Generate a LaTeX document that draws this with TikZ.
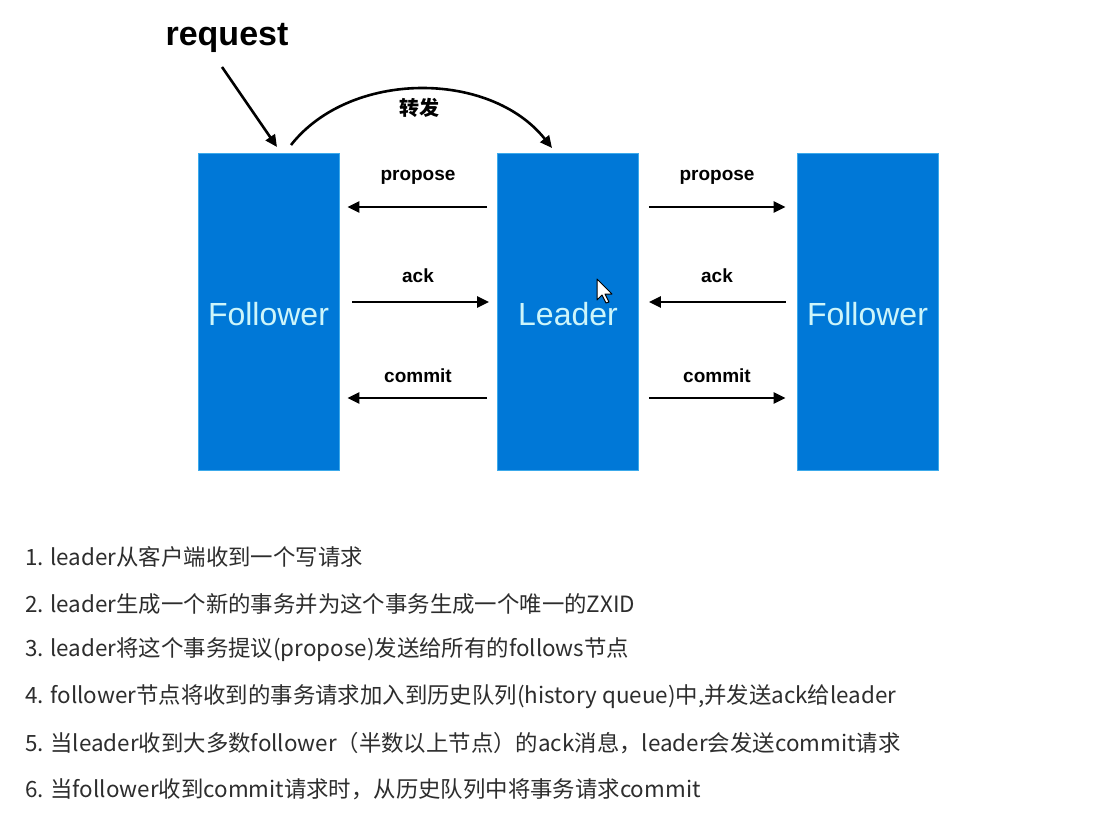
\documentclass[tikz,border=0pt]{standalone}
\usepackage{fontspec}
\setmainfont{Liberation Sans}
\newfontfamily\cjk{Noto Sans CJK SC}
\usetikzlibrary{arrows.meta}
\definecolor{boxblue}{RGB}{0,120,215}
\definecolor{boxedge}{RGB}{60,170,235}
\definecolor{boxtext}{RGB}{205,245,250}
\definecolor{listtext}{RGB}{45,45,45}
\tikzset{
  box/.style={rectangle, fill=boxblue, draw=boxedge, line width=0.8pt, minimum width=141pt, minimum height=317pt, inner sep=0pt, text=boxtext, font=\fontsize{32}{38}\selectfont},
  arr/.style={-{Triangle[length=12pt,width=11pt]}, line width=2.6pt, black},
  lbl/.style={font=\fontsize{19}{22}\selectfont\bfseries, text=black, inner sep=0pt},
  item/.style={anchor=west, font=\cjk\fontsize{22.4}{26}\selectfont, text=listtext, inner sep=0pt}
}
\begin{document}
\begin{tikzpicture}[x=1pt,y=-1pt]
\useasboundingbox (0,0) rectangle (1118,826);
\fill[white] (0,0) rectangle (1118,826);
% boxes
\node[box] (F1) at (268.5,311.5) {\raisebox{-3pt}[\height][\depth]{Follower}};
\node[box] (L) at (568,311.5) {\raisebox{-3pt}[\height][\depth]{Leader}};
\node[box] (F2) at (867.5,311.5) {\raisebox{-3pt}[\height][\depth]{Follower}};
% request
\node[font=\fontsize{34}{38}\selectfont\bfseries, inner sep=0pt] (req) at (227,38) {request};
\coordinate (reqS) at (222,67);
\coordinate (reqE) at (277,147);
\draw[arr] (reqS) -- (reqE);
% forward curve
\coordinate (fwS) at (291,145);
\coordinate (fwE) at (552,148);
\draw[arr] (fwS) .. controls (350,70) and (490,70) .. (fwE);
\node[font=\cjk\bfseries\fontsize{20}{23}\selectfont, inner sep=0pt] (fw) at (419,108) {转发};
% left arrows
\draw[arr, shorten <=10pt, shorten >=8pt] (L.west |- 0,207) -- (F1.east |- 0,207);
\draw[arr, shorten <=13pt, shorten >=8pt] (F1.east |- 0,302) -- (L.west |- 0,302);
\draw[arr, shorten <=10pt, shorten >=8pt] (L.west |- 0,398) -- (F1.east |- 0,398);
\node[lbl] (p1) at (418,177) {propose};
\node[lbl] (a1) at (418,276) {ack};
\node[lbl] (c1) at (418,376) {commit};
% right arrows
\draw[arr, shorten <=10pt, shorten >=11pt] (L.east |- 0,207) -- (F2.west |- 0,207);
\draw[arr, shorten <=11pt, shorten >=10pt] (F2.west |- 0,302) -- (L.east |- 0,302);
\draw[arr, shorten <=10pt, shorten >=11pt] (L.east |- 0,398) -- (F2.west |- 0,398);
\node[lbl] (p2) at (717,177) {propose};
\node[lbl] (a2) at (717,276) {ack};
\node[lbl] (c2) at (717,376) {commit};
% cursor
\draw[fill=white, draw=black, line width=1pt, line join=round]
  (597,279) -- (597,300) -- (602,295) -- (606,303) -- (609,302) -- (605,294) -- (612,294) -- cycle;
% list
\node[item] (i1) at (25,557) {1. leader从客户端收到一个写请求};
\node[item] (i2) at (25,604) {2. leader生成一个新的事务并为这个事务生成一个唯一的ZXID};
\node[item] (i3) at (25,650) {3. leader将这个事务提议(propose)发送给所有的follows节点};
\node[item] (i4) at (25,697) {4. follower节点将收到的事务请求加入到历史队列(history queue)中,并发送ack给leader};
\node[item] (i5) at (25,743) {5. 当leader收到大多数follower（半数以上节点）的ack消息，leader会发送commit请求};
\node[item] (i6) at (25,789) {6. 当follower收到commit请求时，从历史队列中将事务请求commit};
\end{tikzpicture}
\end{document}
